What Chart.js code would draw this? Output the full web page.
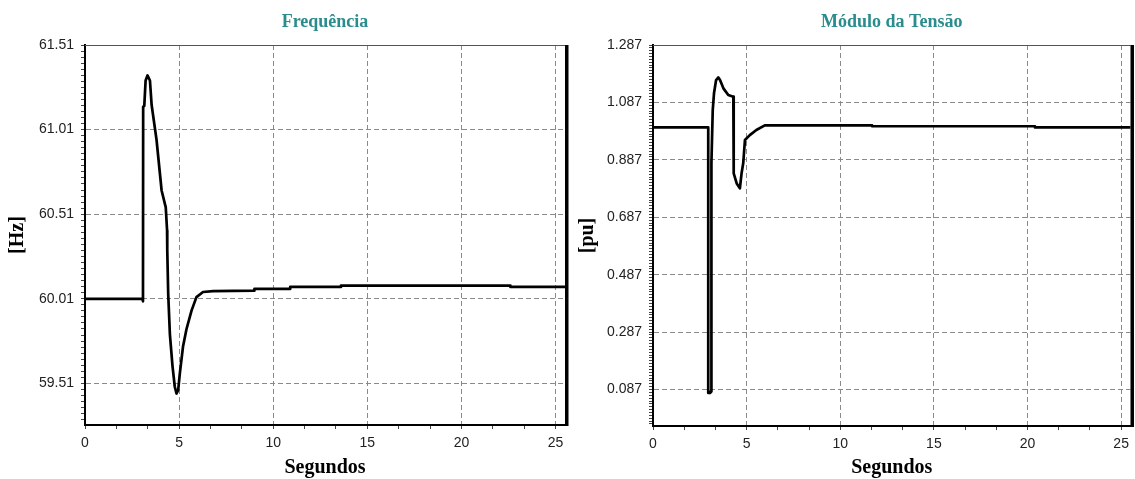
<!DOCTYPE html>
<html><head><meta charset="utf-8">
<script src="https://cdn.jsdelivr.net/npm/chart.js@4.4.1/dist/chart.umd.min.js"></script>
<style>
html,body{margin:0;padding:0;background:#fff;width:1135px;height:479px;overflow:hidden}
.box{position:absolute;top:0;height:479px}
</style></head><body>
<div class="box" style="left:0;width:570px"><canvas id="c1"></canvas></div>
<div class="box" style="left:570px;width:565px"><canvas id="c2"></canvas></div>
<script>
// ---- data ----
const freqTime = [0, 3.05, 3.08, 3.09, 3.15, 3.22, 3.32, 3.45, 3.54, 3.8, 4.07, 4.29, 4.36, 4.37, 4.42, 4.51, 4.65, 4.77, 4.86, 4.95, 5.04, 5.21, 5.39, 5.66, 5.92, 6.27, 6.8, 9.0, 9.0, 10.9, 10.9, 13.6, 13.6, 22.6, 22.6, 25.6];
const freqHz   = [60.01, 60.01, 59.995, 61.145, 61.15, 61.30, 61.33, 61.30, 61.155, 60.95, 60.65, 60.55, 60.415, 60.30, 60.04, 59.80, 59.61, 59.49, 59.45, 59.47, 59.57, 59.73, 59.83, 59.94, 60.02, 60.05, 60.055, 60.058, 60.068, 60.068, 60.08, 60.08, 60.088, 60.088, 60.08, 60.08];

const voltTime = [0, 2.95, 2.95, 3.0, 3.05, 3.11, 3.12, 3.19, 3.26, 3.37, 3.49, 3.58, 3.76, 4.02, 4.29, 4.31, 4.47, 4.64, 4.73, 4.82, 4.91, 5.17, 5.52, 5.97, 11.7, 11.7, 20.4, 20.4, 25.6];
const voltPu   = [1.0, 1.0, 0.075, 0.08, 0.075, 0.08, 0.876, 1.06, 1.12, 1.165, 1.174, 1.165, 1.136, 1.113, 1.107, 0.84, 0.805, 0.788, 0.84, 0.876, 0.956, 0.973, 0.991, 1.007, 1.007, 1.004, 1.004, 1.0, 1.0];

const xTickLabels    = ['0', '5', '10', '15', '20', '25'];
const freqTickLabels = ['59.51', '60.01', '60.51', '61.01', '61.51'];
const voltTickLabels = ['0.087', '0.287', '0.487', '0.687', '0.887', '1.087', '1.287'];

// ---- helpers ----
function tickSet(labels, min, max, subdiv) {
  const majors = labels.map(Number);
  const step = majors[1] - majors[0];
  const ms = step / subdiv;
  const m0 = majors[0];
  const out = [];
  const i0 = Math.ceil((min - m0) / ms - 1e-9), i1 = Math.floor((max - m0) / ms + 1e-9);
  for (let i = i0; i <= i1; i++) out.push({value: m0 + i * ms});
  return {ticks: out, isMajor: v => Math.abs((v - m0) / step - Math.round((v - m0) / step)) < 1e-6,
          label: v => { const l = labels.find(s => Math.abs(Number(s) - v) < 1e-6); return l === undefined ? '' : l; }};
}

const framePlugin = {
  id: 'frame',
  afterDraw(chart) {
    const {ctx, chartArea: a} = chart;
    ctx.save();
    ctx.strokeStyle = '#555'; ctx.lineWidth = 1;
    ctx.beginPath(); ctx.moveTo(a.left, a.top + 0.5); ctx.lineTo(a.right, a.top + 0.5); ctx.stroke();
    ctx.strokeStyle = '#000'; ctx.lineWidth = 3.5;
    ctx.beginPath(); ctx.moveTo(a.right + 1.75, a.top); ctx.lineTo(a.right + 1.75, a.bottom + 1); ctx.stroke();
    ctx.restore();
  }
};

function makeChart(id, times, values, title, yTitle, yLabels, yMin, yMax, ySub, yWidth, xHeight, padRight, xMax) {
  const ys = tickSet(yLabels, yMin, yMax, ySub);
  const xs = tickSet(xTickLabels, 0, xMax, 3);
  const gridColor = (set) => (ctx) => (ctx.tick && set.isMajor(ctx.tick.value)) ? '#8a8a8a' : 'rgba(0,0,0,0)';
  new Chart(document.getElementById(id), {
    type: 'line',
    data: { datasets: [{ data: times.map((t, i) => ({x: t, y: values[i]})), borderColor: '#000', borderWidth: 2.7,
                         borderJoinStyle: 'round', borderCapStyle: 'round', pointRadius: 0, tension: 0, fill: false }] },
    options: {
      responsive: true, maintainAspectRatio: false, animation: false,
      layout: { padding: { left: 0, right: padRight, top: 0, bottom: 0 } },
      plugins: {
        legend: { display: false }, tooltip: { enabled: false },
        title: { display: true, text: title, fullSize: false, color: '#2a8c8c',
                 font: { family: 'Liberation Serif', size: 18, weight: 'bold', lineHeight: 1.2 },
                 padding: { top: 12, bottom: 11.4 } }
      },
      scales: {
        x: {
          type: 'linear', min: 0, max: xMax,
          afterBuildTicks: s => { s.ticks = xs.ticks.map(t => ({value: t.value})); },
          afterFit: s => { s.height = xHeight; },
          ticks: { autoSkip: false, maxRotation: 0, padding: 6, color: '#222', font: { family: 'Liberation Sans', size: 14 },
                   callback: v => xs.label(v) },
          grid: { color: gridColor(xs), tickColor: '#444', tickLength: 4, lineWidth: 1 },
          border: { color: '#000', width: 2, dash: [5, 3] },
          title: { display: true, text: 'Segundos', color: '#000',
                   font: { family: 'Liberation Serif', size: 20, weight: 'bold', lineHeight: 1 }, padding: { top: 0, bottom: 1 } }
        },
        y: {
          type: 'linear', min: yMin, max: yMax,
          afterBuildTicks: s => { s.ticks = ys.ticks.map(t => ({value: t.value})); },
          afterFit: s => { s.width = yWidth; },
          ticks: { autoSkip: false, padding: 7, color: '#222', font: { family: 'Liberation Sans', size: 14 },
                   callback: v => ys.label(v) },
          grid: { color: gridColor(ys), tickColor: '#444', tickLength: 4, lineWidth: 1 },
          border: { color: '#000', width: 2, dash: [5, 3] },
          title: { display: true, text: yTitle, color: '#000',
                   font: { family: 'Liberation Serif', size: 20, weight: 'bold', lineHeight: 1 }, padding: { top: 8, bottom: 0 } }
        }
      }
    },
    plugins: [framePlugin]
  });
}

makeChart('c1', freqTime, freqHz, 'Frequência', '[Hz]', freqTickLabels, 59.264, 61.51, 14, 85, 54, 5, 25.5);
makeChart('c2', voltTime, voltPu, 'Módulo da Tensão', '[pu]', voltTickLabels, -0.040, 1.287, 20, 83, 53, 3, 25.5);
</script>
</body></html>
